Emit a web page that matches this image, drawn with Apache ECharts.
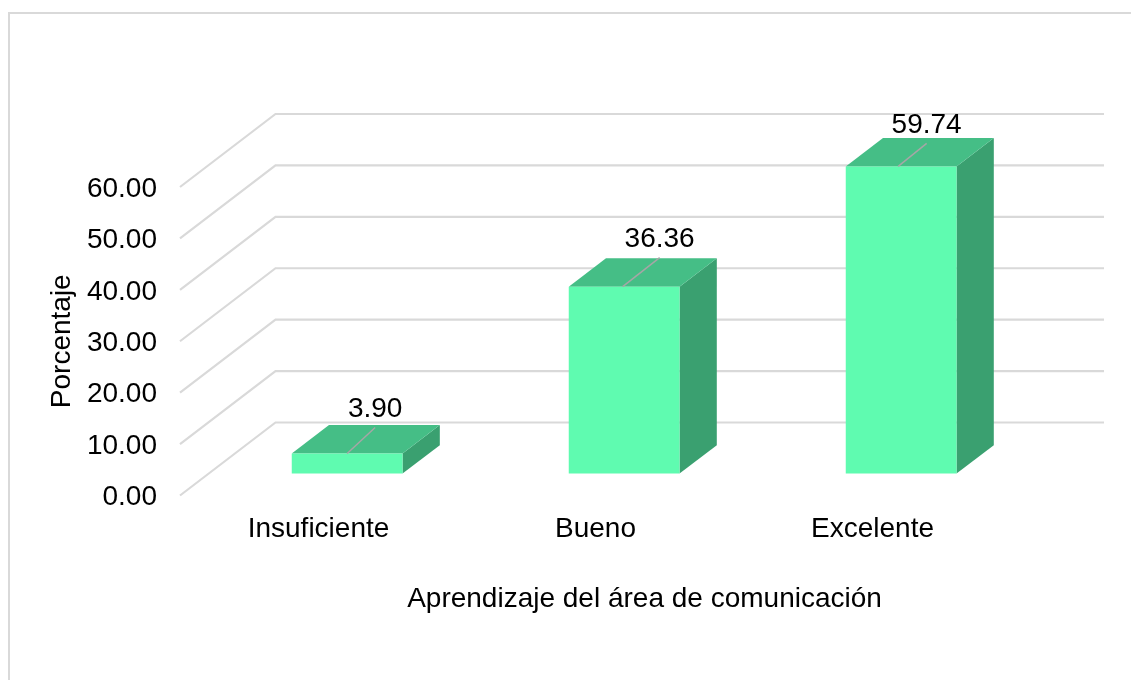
<!DOCTYPE html>
<html>
<head>
<meta charset="utf-8">
<script src="https://cdn.jsdelivr.net/npm/echarts@6/dist/echarts.min.js"></script>
<style>
  html, body { margin: 0; padding: 0; background: #fff; }
  #main { width: 1131px; height: 680px; }
</style>
</head>
<body>
<div id="main"></div>
<script>
  var categories = ['Insuficiente', 'Bueno', 'Excelente'];
  var values = [3.90, 36.36, 59.74];
  var yTicks = [0, 10, 20, 30, 40, 50, 60];

  var xTitle = 'Aprendizaje del área de comunicación';
  var yTitle = 'Porcentaje';

  // fake 3D depth of the chart floor, and where the bars sit on it
  var depthX = 95.5;
  var depthY = 73;
  var barFront = 0.3;
  var barDepth = 0.39;

  // the value labels were dragged by hand in the original, so each leader line differs
  var leaderStart = [0, -1.5, -3];
  var leaderDx = [28, 37, 28.5];
  var leaderDy = [26, 29, 23];

  var font = 'Liberation Sans';
  var fontSize = 28;

  var chart = echarts.init(document.getElementById('main'));

  function renderWall(params, api) {
    var p = api.coord([0, api.value(0)]);
    var left = params.coordSys.x;
    var right = left + params.coordSys.width;
    return {
      type: 'polyline',
      shape: { points: [[left, p[1]], [left + depthX, p[1] - depthY], [right + depthX - 2.5, p[1] - depthY]] },
      style: { stroke: '#d9d9d9', lineWidth: 2.2, fill: null }
    };
  }

  function renderBar(params, api) {
    var i = api.value(0);
    var v = api.value(1);
    var base = api.coord([i, 0]);
    var top = api.coord([i, v]);
    var w = api.size([1, 0])[0] * 0.4;
    var dx = depthX * barDepth;
    var dy = depthY * barDepth;
    var x0 = base[0] - w / 2 + depthX * barFront;
    var x1 = x0 + w;
    var yb = base[1] - depthY * barFront;
    var yt = top[1] - depthY * barFront;
    var lx = (x0 + x1) / 2 + leaderStart[i];
    var ex = lx + leaderDx[i];
    var ey = yt - leaderDy[i];
    return {
      type: 'group',
      children: [
        { type: 'polygon', shape: { points: [[x1, yt], [x1 + dx, yt - dy], [x1 + dx, yb - dy], [x1, yb]] }, style: { fill: '#3aa070' } },
        { type: 'polygon', shape: { points: [[x0, yt], [x0 + dx, yt - dy], [x1 + dx, yt - dy], [x1, yt]] }, style: { fill: '#45be86' } },
        { type: 'rect', shape: { x: x0, y: yt, width: w, height: yb - yt }, style: { fill: '#5ffbb0' } },
        { type: 'line', shape: { x1: lx, y1: yt, x2: ex, y2: ey }, style: { stroke: '#a6a6a6', lineWidth: 1.5 } },
        { type: 'text', x: ex, y: ey - 18, style: {
          text: v.toFixed(2), fill: '#000', font: fontSize + 'px "' + font + '"', align: 'center', verticalAlign: 'middle'
        } }
      ]
    };
  }

  var option = {
    animation: false,
    textStyle: { fontFamily: font },
    grid: { left: 180, top: 187, width: 831, height: 308.5 },
    graphic: [{
      type: 'polyline',
      shape: { points: [[9, 680], [9, 13], [1131, 13]] },
      style: { stroke: '#d9d9d9', lineWidth: 2, fill: null }
    }],
    xAxis: {
      type: 'category',
      data: categories,
      name: xTitle,
      nameLocation: 'middle',
      nameGap: 90,
      nameTextStyle: { color: '#000', fontSize: fontSize, fontFamily: font, padding: [0, 0, 0, 98] },
      axisLine: { show: false },
      axisTick: { show: false },
      axisLabel: { color: '#000', fontSize: fontSize, fontFamily: font, margin: 20 }
    },
    yAxis: {
      type: 'value',
      min: 0,
      max: 60,
      interval: 10,
      name: yTitle,
      nameLocation: 'middle',
      nameGap: 103,
      nameTextStyle: { color: '#000', fontSize: fontSize, fontFamily: font },
      axisLine: { show: false },
      axisTick: { show: false },
      splitLine: { show: false },
      axisLabel: {
        color: '#000', fontSize: fontSize, fontFamily: font, margin: 23,
        verticalAlign: 'top', lineHeight: 4,
        formatter: function (v) { return v.toFixed(2); }
      }
    },
    series: [
      {
        type: 'custom',
        renderItem: renderWall,
        data: yTicks.map(function (t) { return [t]; }),
        encode: { y: 0 },
        silent: true,
        z: 1
      },
      {
        type: 'custom',
        renderItem: renderBar,
        data: values.map(function (v, i) { return [i, v]; }),
        encode: { x: 0, y: 1 },
        z: 2
      }
    ]
  };
  chart.setOption(option);
</script>
</body>
</html>
